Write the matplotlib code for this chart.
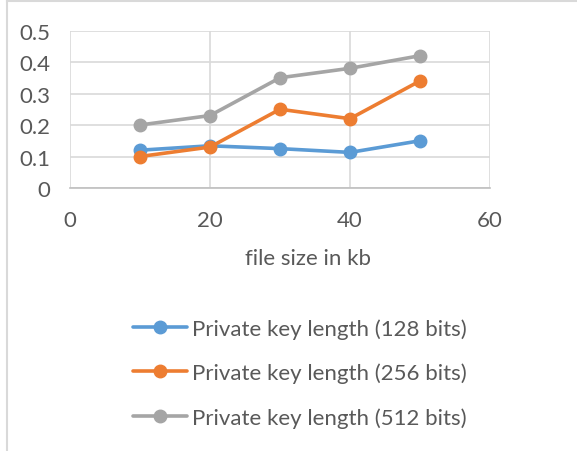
import matplotlib
matplotlib.use("Agg")
import matplotlib.pyplot as plt
from matplotlib.lines import Line2D

plt.rcParams['font.family'] = ['Lato', 'DejaVu Sans']

file_size_kb = [10, 20, 30, 40, 50]
key_128 = [0.12, 0.134, 0.125, 0.113, 0.15]
key_256 = [0.10, 0.13, 0.25, 0.22, 0.34]
key_512 = [0.20, 0.23, 0.35, 0.38, 0.42]
series_labels = ["Private key length (128 bits)",
                 "Private key length (256 bits)",
                 "Private key length (512 bits)"]
series_colors = ["#5B9BD5", "#ED7D31", "#A5A5A5"]
x_ticks = [0, 20, 40, 60]
y_ticks = [0, 0.1, 0.2, 0.3, 0.4, 0.5]
y_tick_labels = ["0", "0.1", "0.2", "0.3", "0.4", "0.5"]

W, H = 577, 452
fig = plt.figure(figsize=(W / 100, H / 100), dpi=100)

# chart frame (top and left edges)
fig.add_artist(Line2D([7 / W, 7 / W], [0, 1 - 2 / H], color="#D9D9D9", lw=1.5,
                      transform=fig.transFigure))
fig.add_artist(Line2D([7 / W, 1], [1 - 2 / H, 1 - 2 / H], color="#D9D9D9", lw=1.5,
                      transform=fig.transFigure))

ax = fig.add_axes([70 / W, 1 - 189 / H, 420 / W, 157.5 / H])
text_color = "#595959"
grid_color = "#D9D9D9"

for vals, lab, col in zip([key_128, key_256, key_512], series_labels, series_colors):
    ax.plot(file_size_kb, vals, color=col, lw=2.6, marker="o", markersize=9,
            label=lab, solid_capstyle="round", zorder=3, clip_on=False)

ax.set_xlim(0, 60)
ax.set_ylim(0, 0.5)
ax.set_xticks(x_ticks)
ax.set_yticks(y_ticks)
ax.set_yticklabels(y_tick_labels)
ax.grid(True, color=grid_color, lw=1.2)
ax.set_axisbelow(True)
for side in ["top", "right", "left"]:
    ax.spines[side].set_visible(False)
ax.spines["bottom"].set_color("#BFBFBF")
ax.spines["bottom"].set_linewidth(1.2)
ax.tick_params(axis="both", length=0, labelsize=16, labelcolor=text_color)
ax.tick_params(axis="y", pad=14)
ax.tick_params(axis="x", pad=16)

fig.text(308 / W, 1 - 259 / H, "file size in kb", ha="center", va="center",
         fontsize=16, color=text_color)

leg = fig.legend(loc="upper left", bbox_to_anchor=(133 / W, 1 - 319 / H),
                 frameon=False, fontsize=16, handlelength=2.43, handletextpad=0.23,
                 labelspacing=1.08, borderpad=0, borderaxespad=0,
                 labelcolor=text_color)

fig.savefig("out.png", dpi=100, facecolor="white")
